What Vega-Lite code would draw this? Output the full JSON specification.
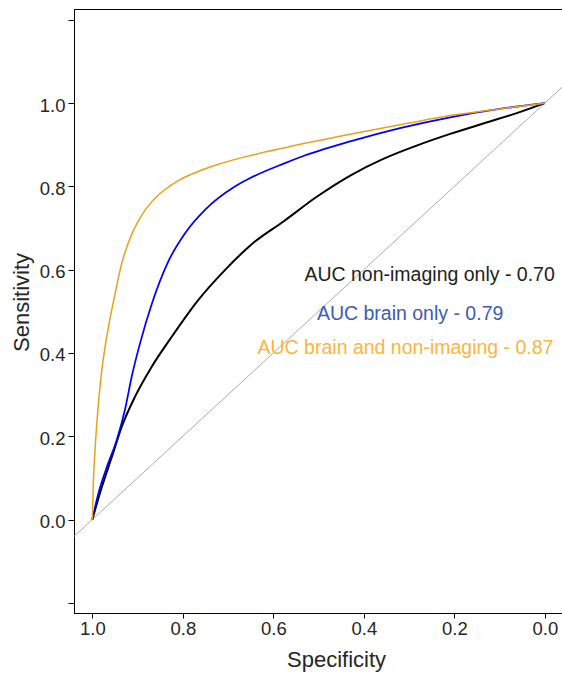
{
  "$schema": "https://vega.github.io/schema/vega-lite/v6.json",
  "autosize": {"type": "none"},
  "padding": {"left": 74, "top": 9, "right": 0, "bottom": 62},
  "width": 488,
  "height": 604,
  "background": "white",
  "view": {"stroke": "black", "strokeWidth": 1, "fill": "white"},
  "config": {
    "view": {"stroke": "black", "strokeWidth": 1},
    "font": "Liberation Sans",
    "axis": {
      "grid": false,
      "domain": true,
      "domainColor": "black",
      "domainWidth": 1,
      "tickColor": "black",
      "tickWidth": 1,
      "labelFont": "Liberation Sans",
      "labelFontSize": 18.5,
      "labelColor": "#262626",
      "titleFont": "Liberation Sans",
      "titleFontSize": 22,
      "titleFontWeight": "normal",
      "titleColor": "#262626"
    }
  },
  "layer": [
    {
      "data": {"values": [
        {"spec": 1.1, "sens": -0.1},
        {"spec": -0.1, "sens": 1.1}
      ]},
      "mark": {"type": "line", "color": "#ababab", "strokeWidth": 1, "clip": true},
      "encoding": {
        "x": {
          "field": "spec", "type": "quantitative",
          "scale": {"domain": [1.0405, -0.038], "nice": false, "zero": false},
          "axis": {
            "values": [0, 0.2, 0.4, 0.6, 0.8, 1.0],
            "format": ".1f",
            "tickSize": 5,
            "labelPadding": 1,
            "title": "Specificity",
            "titleX": 262,
            "titleY": 53,
            "titleBaseline": "alphabetic",
            "titleAlign": "center"
          }
        },
        "y": {
          "field": "sens", "type": "quantitative",
          "scale": {"domain": [-0.2245, 1.226], "nice": false, "zero": false},
          "axis": {
            "values": [-0.2, 0, 0.2, 0.4, 0.6, 0.8, 1.0, 1.2],
            "labelExpr": "(datum.value < -0.01 || datum.value > 1.01) ? '' : format(datum.value, '.1f')",
            "tickSize": 6,
            "labelPadding": 3,
            "labelOffset": 2,
            "title": "Sensitivity",
            "titleAngle": -90,
            "titleX": -46,
            "titleY": 293,
            "titleBaseline": "alphabetic",
            "titleAlign": "center"
          }
        }
      }
    },
    {
      "data": {"values": [
        {"model": "non-imaging", "spec": 1.0, "sens": 0.0},
        {"model": "non-imaging", "spec": 0.979, "sens": 0.078},
        {"model": "non-imaging", "spec": 0.957, "sens": 0.150},
        {"model": "non-imaging", "spec": 0.935, "sens": 0.223},
        {"model": "non-imaging", "spec": 0.9056, "sens": 0.295},
        {"model": "non-imaging", "spec": 0.8687, "sens": 0.367},
        {"model": "non-imaging", "spec": 0.8245, "sens": 0.439},
        {"model": "non-imaging", "spec": 0.766, "sens": 0.527},
        {"model": "non-imaging", "spec": 0.707, "sens": 0.599},
        {"model": "non-imaging", "spec": 0.649, "sens": 0.660},
        {"model": "non-imaging", "spec": 0.576, "sens": 0.717},
        {"model": "non-imaging", "spec": 0.504, "sens": 0.775},
        {"model": "non-imaging", "spec": 0.430, "sens": 0.826},
        {"model": "non-imaging", "spec": 0.357, "sens": 0.866},
        {"model": "non-imaging", "spec": 0.283, "sens": 0.898},
        {"model": "non-imaging", "spec": 0.209, "sens": 0.926},
        {"model": "non-imaging", "spec": 0.136, "sens": 0.951},
        {"model": "non-imaging", "spec": 0.062, "sens": 0.976},
        {"model": "non-imaging", "spec": 0.0, "sens": 1.0},
        {"model": "brain", "spec": 1.0, "sens": 0.0},
        {"model": "brain", "spec": 0.9867, "sens": 0.0625},
        {"model": "brain", "spec": 0.968, "sens": 0.126},
        {"model": "brain", "spec": 0.946, "sens": 0.191},
        {"model": "brain", "spec": 0.928, "sens": 0.263},
        {"model": "brain", "spec": 0.913, "sens": 0.343},
        {"model": "brain", "spec": 0.8946, "sens": 0.423},
        {"model": "brain", "spec": 0.867, "sens": 0.523},
        {"model": "brain", "spec": 0.832, "sens": 0.620},
        {"model": "brain", "spec": 0.795, "sens": 0.6875},
        {"model": "brain", "spec": 0.751, "sens": 0.7435},
        {"model": "brain", "spec": 0.685, "sens": 0.7995},
        {"model": "brain", "spec": 0.651, "sens": 0.820},
        {"model": "brain", "spec": 0.574, "sens": 0.856},
        {"model": "brain", "spec": 0.541, "sens": 0.870},
        {"model": "brain", "spec": 0.430, "sens": 0.908},
        {"model": "brain", "spec": 0.320, "sens": 0.940},
        {"model": "brain", "spec": 0.209, "sens": 0.966},
        {"model": "brain", "spec": 0.100, "sens": 0.986},
        {"model": "brain", "spec": 0.0, "sens": 1.0},
        {"model": "combined", "spec": 1.0, "sens": 0.0},
        {"model": "combined", "spec": 0.9978, "sens": 0.0865},
        {"model": "combined", "spec": 0.994, "sens": 0.167},
        {"model": "combined", "spec": 0.988, "sens": 0.26},
        {"model": "combined", "spec": 0.980, "sens": 0.35},
        {"model": "combined", "spec": 0.968, "sens": 0.44},
        {"model": "combined", "spec": 0.953, "sens": 0.525},
        {"model": "combined", "spec": 0.935, "sens": 0.615},
        {"model": "combined", "spec": 0.915, "sens": 0.68},
        {"model": "combined", "spec": 0.893, "sens": 0.727},
        {"model": "combined", "spec": 0.868, "sens": 0.764},
        {"model": "combined", "spec": 0.84, "sens": 0.792},
        {"model": "combined", "spec": 0.81, "sens": 0.814},
        {"model": "combined", "spec": 0.77, "sens": 0.834},
        {"model": "combined", "spec": 0.7215, "sens": 0.853},
        {"model": "combined", "spec": 0.651, "sens": 0.874},
        {"model": "combined", "spec": 0.574, "sens": 0.893},
        {"model": "combined", "spec": 0.4305, "sens": 0.925},
        {"model": "combined", "spec": 0.3, "sens": 0.952},
        {"model": "combined", "spec": 0.2093, "sens": 0.970},
        {"model": "combined", "spec": 0.1, "sens": 0.986},
        {"model": "combined", "spec": 0.0, "sens": 1.0}
      ]},
      "mark": {"type": "line", "interpolate": "monotone", "clip": true},
      "encoding": {
        "x": {"field": "spec", "type": "quantitative"},
        "y": {"field": "sens", "type": "quantitative"},
        "order": {"field": "sens", "type": "quantitative"},
        "color": {
          "field": "model", "type": "nominal",
          "scale": {"domain": ["non-imaging", "brain", "combined"], "range": ["#000000", "#0000ff", "#e9a11c"]},
          "legend": null
        },
        "strokeWidth": {
          "field": "model", "type": "nominal",
          "scale": {"domain": ["non-imaging", "brain", "combined"], "range": [2, 1.5, 2.2]},
          "legend": null
        }
      }
    },
    {
      "data": {"values": [
        {"label": "AUC non-imaging only - 0.70", "spec": 0.2546, "sens": 0.573},
        {"label": "AUC brain only - 0.79", "spec": 0.2977, "sens": 0.479},
        {"label": "AUC brain and non-imaging - 0.87", "spec": 0.3079, "sens": 0.397}
      ]},
      "mark": {"type": "text", "align": "center", "baseline": "alphabetic", "fontSize": 19.5, "font": "Liberation Sans"},
      "encoding": {
        "x": {"field": "spec", "type": "quantitative"},
        "y": {"field": "sens", "type": "quantitative"},
        "text": {"field": "label", "type": "nominal"},
        "color": {
          "field": "label", "type": "nominal",
          "scale": {
            "domain": ["AUC non-imaging only - 0.70", "AUC brain only - 0.79", "AUC brain and non-imaging - 0.87"],
            "range": ["#222222", "#3a5cb8", "#fdb43c"]
          },
          "legend": null
        }
      }
    }
  ],
  "resolve": {"scale": {"color": "independent"}}
}
